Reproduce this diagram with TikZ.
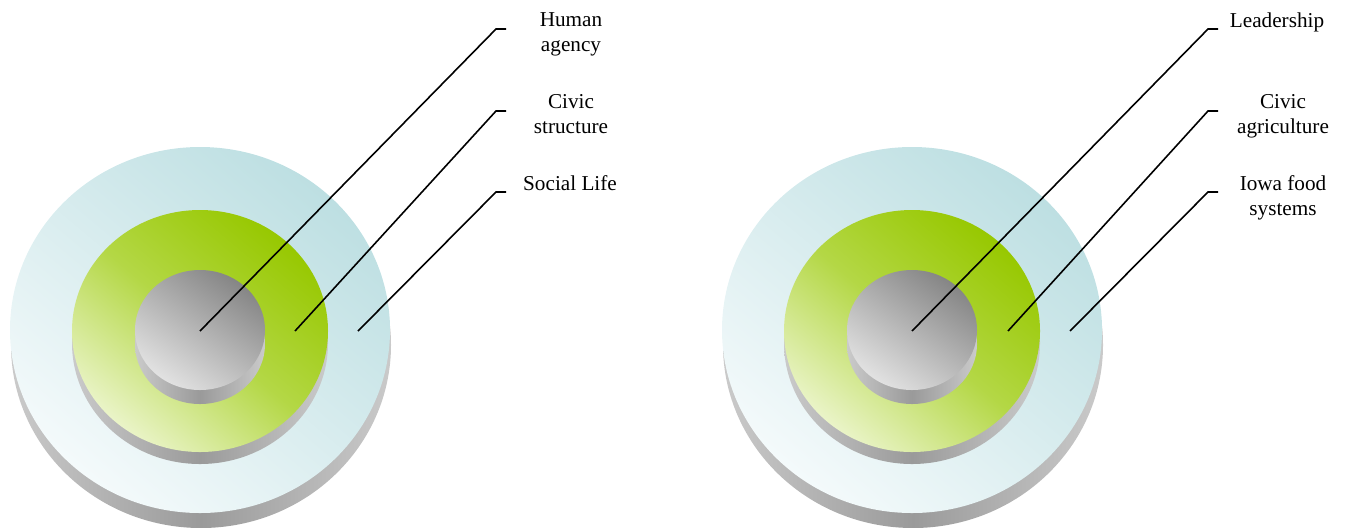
\documentclass[tikz,border=0pt]{standalone}
\usepackage{fontspec}
\setmainfont{Liberation Serif}
\usetikzlibrary{positioning}
\definecolor{ringblue}{HTML}{BDDFE2}
\definecolor{ringwhite}{HTML}{F4FAFB}
\definecolor{ringgreen}{HTML}{97C800}
\definecolor{ringpale}{HTML}{EAF4C8}
\definecolor{coredark}{HTML}{858585}
\definecolor{corelight}{HTML}{E2E2E2}
\definecolor{sidedark}{HTML}{9A9A9A}
\definecolor{sidelight}{HTML}{CACACA}
\tikzstyle{ringtext} = [align=center, inner sep=0pt, anchor=north,
                font=\fontsize{10.6}{12.5}\selectfont]
\tikzstyle{leader} = [draw, black, line width=0.8pt]
\tikzstyle{side} = [left color=sidelight, right color=sidelight, middle color=sidedark]

\begin{document}
\begin{tikzpicture}[x=0.5pt, y=-0.5pt]
                \useasboundingbox (0,0) rectangle (1347,527);
                % the two stacked discs
                \foreach \cx in {200,912} {
                    \shade[side] (\cx+1,345) ellipse [x radius=190, y radius=183];
                    \shade[top color=ringblue, bottom color=ringwhite, shading angle=-40] (\cx,330) ellipse [x radius=190, y radius=183];
                    \shade[side] (\cx,343) ellipse [x radius=128, y radius=121];
                    \shade[top color=ringgreen, bottom color=ringpale, middle color=ringgreen!65!ringpale, shading angle=-40] (\cx,331) ellipse [x radius=128, y radius=121];
                    \shade[side] (\cx,344) ellipse [x radius=65, y radius=60];
                    \shade[top color=coredark, bottom color=corelight, shading angle=-35] (\cx,330) ellipse [x radius=65, y radius=60];
                }
                % left labels
                \coordinate (ha) at (200,331);
                \coordinate (hak) at (496,29);
                \coordinate (hae) at (506,29);
                \node[ringtext] (hat) at (571,12) {Human\\agency};
                \coordinate (cs) at (295,331);
                \coordinate (csk) at (496,111);
                \coordinate (cse) at (506,111);
                \node[ringtext] (cst) at (571,94) {Civic\\structure};
                \coordinate (sl) at (358,331);
                \coordinate (slk) at (496,192);
                \coordinate (sle) at (506,192);
                \node[ringtext] (slt) at (570,175) {Social Life};
                % right labels
                \coordinate (ld) at (912,331);
                \coordinate (ldk) at (1208,29);
                \coordinate (lde) at (1218,29);
                \node[ringtext] (ldt) at (1277,12) {Leadership};
                \coordinate (ca) at (1008,331);
                \coordinate (cak) at (1208,111);
                \coordinate (cae) at (1218,111);
                \node[ringtext] (cat) at (1283,94) {Civic\\agriculture};
                \coordinate (if) at (1070,331);
                \coordinate (ifk) at (1208,192);
                \coordinate (ife) at (1218,192);
                \node[ringtext] (ift) at (1283,175) {Iowa food\\systems};
                \path[leader] (ha) -- (hak) -- (hae);
                \path[leader] (cs) -- (csk) -- (cse);
                \path[leader] (sl) -- (slk) -- (sle);
                \path[leader] (ld) -- (ldk) -- (lde);
                \path[leader] (ca) -- (cak) -- (cae);
                \path[leader] (if) -- (ifk) -- (ife);
            \end{tikzpicture}
\end{document}
